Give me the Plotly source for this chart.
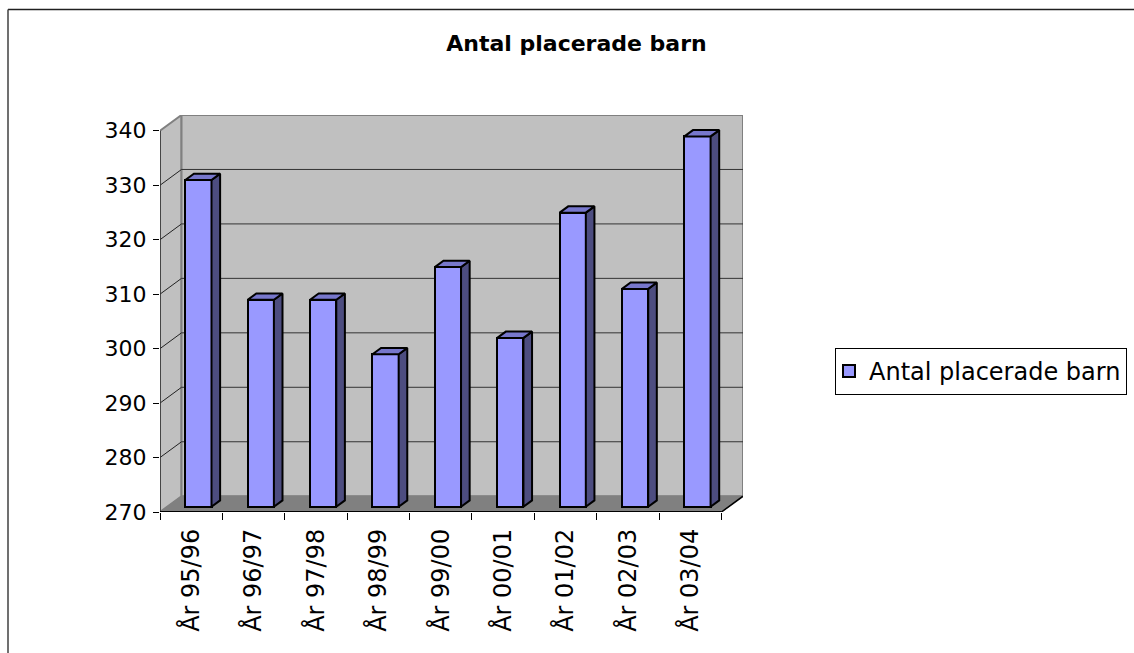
import plotly.graph_objects as go

# ---- data ----
categories = ["År 95/96", "År 96/97", "År 97/98", "År 98/99", "År 99/00",
              "År 00/01", "År 01/02", "År 02/03", "År 03/04"]
values = [330, 308, 308, 298, 314, 301, 324, 310, 338]
series_name = "Antal placerade barn"
title_text = "Antal placerade barn"
y_ticks = [270, 280, 290, 300, 310, 320, 330, 340]

# ---- style / geometry ----
FONT = "DejaVu Sans"
Y0, Y1 = 270, 340
DX, DY = 0.345, 2.9          # 3D depth offset (x in category units, y in value units)
DF, DB = 0.335, 0.735        # bar front / back depth fraction
BW = 0.42                    # bar width in category units
FRONT = "#9999FF"
SIDE = "#4D4D80"
TOP = "#7777CC"
WALL = "#C0C0C0"
FLOOR = "#808080"

n = len(categories)
fig = go.Figure()

# front faces as real bars
xc = [i + 0.5 + DF * DX for i in range(n)]
fig.add_trace(go.Bar(
    x=xc, y=[v - Y0 for v in values], base=[Y0 + DF * DY] * n, width=BW,
    marker=dict(color=FRONT, line=dict(color="black", width=2)),
    name=series_name, showlegend=True, hoverinfo="skip",
))

# side and top faces
sx, sy, tx, ty = [], [], [], []
dDX = (DB - DF) * DX
dDY = (DB - DF) * DY
for i, v in enumerate(values):
    xl = xc[i] - BW / 2
    xr = xc[i] + BW / 2
    b0 = Y0 + DF * DY
    t0 = v + DF * DY
    sx += [xr, xr, xr + dDX, xr + dDX, xr, None]
    sy += [b0, t0, t0 + dDY, b0 + dDY, b0, None]
    tx += [xl, xr, xr + dDX, xl + dDX, xl, None]
    ty += [t0, t0, t0 + dDY, t0 + dDY, t0, None]
fig.add_trace(go.Scatter(x=sx, y=sy, mode="lines", fill="toself", fillcolor=SIDE,
                         line=dict(color="black", width=2), showlegend=False, hoverinfo="skip"))
fig.add_trace(go.Scatter(x=tx, y=ty, mode="lines", fill="toself", fillcolor=TOP,
                         line=dict(color="black", width=2), showlegend=False, hoverinfo="skip"))

shapes = []
# side wall
shapes.append(dict(type="path", layer="below",
                   path=f"M0,{Y0} L{DX},{Y0+DY} L{DX},{Y1+DY} L0,{Y1} Z",
                   fillcolor=WALL, line=dict(color="#808080", width=2)))
# back wall
shapes.append(dict(type="rect", layer="below", x0=DX, x1=n + DX, y0=Y0 + DY, y1=Y1 + DY,
                   fillcolor=WALL, line=dict(color="#808080", width=2)))
# floor
shapes.append(dict(type="path", layer="below",
                   path=f"M0,{Y0} L{n},{Y0} L{n+DX},{Y0+DY} L{DX},{Y0+DY} Z",
                   fillcolor=FLOOR, line=dict(color="#808080", width=1)))
# gridlines and side diagonals
for v in y_ticks[1:-1]:
    shapes.append(dict(type="line", layer="below", x0=DX, x1=n + DX, y0=v + DY, y1=v + DY,
                       line=dict(color="#333333", width=1)))
    shapes.append(dict(type="line", layer="below", x0=0, x1=DX, y0=v, y1=v + DY,
                       line=dict(color="#222222", width=1)))
# front axis lines
shapes.append(dict(type="line", x0=0, x1=0, y0=Y0, y1=Y1, line=dict(color="#333333", width=1.5)))
shapes.append(dict(type="line", x0=0, x1=n, y0=Y0, y1=Y0, line=dict(color="black", width=2)))
shapes.append(dict(type="line", x0=n, x1=n + DX, y0=Y0, y1=Y0 + DY, line=dict(color="black", width=1.5)))

# pixel -> paper helpers
L, R, T, B = 160, 391, 115, 141
W, H = 1134, 653
pw, ph = W - L - R, H - T - B
def px(x): return (x - L) / pw
def py(y): return (H - B - y) / ph

# outer chart border (only top and left edges fall inside the picture)
shapes.append(dict(type="line", xref="paper", yref="paper",
                   x0=px(8), x1=px(1200), y0=py(9.5), y1=py(9.5),
                   line=dict(color="#202020", width=1.5)))
shapes.append(dict(type="line", xref="paper", yref="paper",
                   x0=px(8), x1=px(8), y0=py(9.5), y1=py(700),
                   line=dict(color="#404040", width=1.5)))

fig.update_layout(
    width=W, height=H,
    margin=dict(l=L, r=R, t=T, b=B, autoexpand=False),
    paper_bgcolor="white", plot_bgcolor="white",
    font=dict(family=FONT, color="black"),
    title=dict(text=f"<b>{title_text}</b>", x=576.5 / W, xref="container", xanchor="center",
               y=1 - 43 / H, yref="container", yanchor="middle",
               font=dict(family=FONT, size=22, color="black")),
    shapes=shapes,
    showlegend=True,
    legend=dict(x=px(835), y=py(348), xref="paper", yref="paper",
                xanchor="left", yanchor="top", bordercolor="black", borderwidth=1,
                indentation=-7,
                bgcolor="white", font=dict(family=FONT, size=24, color="black")),
    xaxis=dict(range=[0, n + DX], tickmode="array",
               tickvals=[i + 0.5 for i in range(n)], ticktext=categories,
               tickangle=-90, ticks="", showgrid=False, zeroline=False, showline=False,
               tickfont=dict(family=FONT, size=24, color="black"),
               ticklabelstandoff=11,
               minor=dict(tickmode="array", tickvals=list(range(n + 1)), ticks="outside",
                          ticklen=7, tickcolor="black", tickwidth=1, showgrid=False),
               fixedrange=True),
    yaxis=dict(range=[Y0, Y1 + DY], tickmode="array", tickvals=y_ticks,
               ticks="outside", ticklen=6, tickcolor="black", tickwidth=1,
               showgrid=False, zeroline=False, showline=False,
               ticklabelstandoff=2,
               tickfont=dict(family=FONT, size=22, color="black"),
               fixedrange=True),
    bargap=0,
)

fig.write_html("out.html", config={"displayModeBar": False},
               post_script="document.body.style.margin='0';document.body.style.overflow='hidden';")
